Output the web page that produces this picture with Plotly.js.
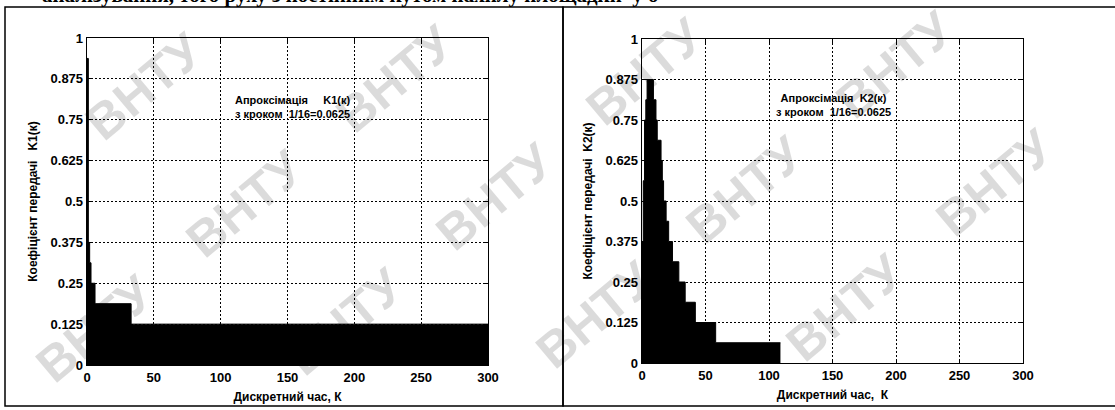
<!DOCTYPE html>
<html>
<head>
<meta charset="utf-8">
<script src="https://cdn.plot.ly/plotly-3.0.1.min.js"></script>
<style>html,body{margin:0;padding:0;background:#fff;}#chart{width:1115px;height:410px;}</style>
</head>
<body>
<div id="chart"></div>
<script>
// ---- data: step approximations (value holds from each start k to the next) ----
const k1Starts = [0, 1, 2, 3, 6, 33, 300];
const k1Levels = [0.9375, 0.375, 0.3125, 0.25, 0.1875, 0.125, 0.125];

const k2Starts = [0, 1, 2, 3, 4, 9, 11, 12, 15, 16, 17, 19, 21, 24, 29, 34, 42, 58, 109];
const k2Levels = [0.375, 0.5625, 0.75, 0.8125, 0.875, 0.8125, 0.75, 0.6875, 0.625, 0.5625, 0.5, 0.4375, 0.375, 0.3125, 0.25, 0.1875, 0.125, 0.0625, 0.0625];

const xTicks = [0, 50, 100, 150, 200, 250, 300];
const yTicks = [0, 0.125, 0.25, 0.375, 0.5, 0.625, 0.75, 0.875, 1];
const yTickText = ['0', '0.125', '0.25', '0.375', '0.5', '0.625', '0.75', '0.875', '1'];

const xTitle1 = 'Дискретний час, К';
const xTitle2 = 'Дискретний час,  К';
const yTitle1 = 'Коефіцієнт передачі   K1(к)';
const yTitle2 = 'Коефіцієнт передачі  K2(к)';
const note1 = 'Апроксімація     K1(к)<br>з кроком  1/16=0.0625';
const note2 = 'Апроксімація  K2(к)<br>з кроком  1/16=0.0625';
const headerText = 'аналізування, того руху з постійним кутом нахилу площадки  у о';
const watermark = 'ВНТУ';

// ---- layout helpers ----
const W = 1115, H = 410;
const px = v => v / W;
const py = v => 1 - v / H;
const FONT = 'Liberation Sans Narrow, Liberation Sans, Arial, sans-serif';

const traces = [
  {x: k1Starts, y: k1Levels, xaxis: 'x', yaxis: 'y', type: 'scatter', mode: 'lines',
   line: {shape: 'hv', color: '#000', width: 1}, fill: 'tozeroy', fillcolor: '#000',
   hoverinfo: 'skip', showlegend: false},
  {x: k2Starts, y: k2Levels, xaxis: 'x2', yaxis: 'y2', type: 'scatter', mode: 'lines',
   line: {shape: 'hv', color: '#000', width: 1}, fill: 'tozeroy', fillcolor: '#000',
   hoverinfo: 'skip', showlegend: false}
];

function xax(domain, title, anchor) {
  return {
    domain: domain, anchor: anchor, range: [0, 300], tickvals: xTicks, ticktext: xTicks.map(String),
    ticks: 'inside', ticklen: 4, tickcolor: '#000', mirror: 'allticks',
    showline: true, linecolor: '#000', linewidth: 1.3,
    showgrid: true, gridcolor: '#000', gridwidth: 1, griddash: '2px,2px',
    zeroline: false, fixedrange: true,
    tickfont: {family: FONT, size: 13, color: '#000', weight: 'bold'},
    title: {text: title, standoff: 8, font: {family: FONT, size: 12, color: '#000', weight: 'bold'}},
    automargin: false
  };
}
function yax(domain, title, anchor) {
  return {
    domain: domain, anchor: anchor, range: [0, 1], tickvals: yTicks, ticktext: yTickText,
    ticks: 'inside', ticklen: 4, tickcolor: '#000', mirror: 'allticks',
    showline: true, linecolor: '#000', linewidth: 1.3,
    showgrid: true, gridcolor: '#000', gridwidth: 1, griddash: '2px,2px',
    zeroline: false, fixedrange: true,
    tickfont: {family: FONT, size: 13, color: '#000', weight: 'bold'},
    title: {text: title, standoff: 10, font: {family: FONT, size: 12, color: '#000', weight: 'bold'}},
    automargin: false
  };
}

// watermark lattice (kept inside the page)
const annotations = [];
const ax = [150, -125], bx = [100, 118];
const origin = [745, 190];
for (let i = -6; i <= 6; i++) {
  for (let j = -5; j <= 5; j++) {
    const cx = origin[0] + i * ax[0] + j * bx[0];
    const cy = origin[1] + i * ax[1] + j * bx[1];
    if (cx < 40 || cx > W - 40 || cy < 35 || cy > H - 35) continue;
    annotations.push({
      xref: 'paper', yref: 'paper', x: px(cx), y: py(cy), xanchor: 'center', yanchor: 'middle',
      text: watermark, showarrow: false, textangle: -40,
      font: {family: 'Liberation Sans, Arial, sans-serif', size: 50, color: 'rgba(0,0,0,0.14)', weight: 'bold'}
    });
  }
}
annotations.push(
  {xref: 'paper', yref: 'paper', x: px(292), y: py(107), xanchor: 'center', yanchor: 'middle',
   text: note1, showarrow: false, align: 'center',
   font: {family: FONT, size: 11, color: '#000', weight: 'bold'}},
  {xref: 'paper', yref: 'paper', x: px(833), y: py(105), xanchor: 'center', yanchor: 'middle',
   text: note2, showarrow: false, align: 'center',
   font: {family: FONT, size: 11, color: '#000', weight: 'bold'}},
  {xref: 'paper', yref: 'paper', x: px(40), y: py(-5), xanchor: 'left', yanchor: 'middle',
   text: headerText, showarrow: false,
   font: {family: 'Liberation Serif, serif', size: 21, color: '#000', weight: 'bold'}}
);

const layout = {
  width: W, height: H,
  margin: {l: 0, r: 0, t: 0, b: 0},
  paper_bgcolor: '#fff', plot_bgcolor: 'rgba(0,0,0,0)',
  showlegend: false,
  xaxis: xax([px(87), px(488)], xTitle1, 'y'),
  yaxis: yax([py(365), py(38)], yTitle1, 'x'),
  xaxis2: xax([px(642), px(1023)], xTitle2, 'y2'),
  yaxis2: yax([py(363), py(39)], yTitle2, 'x2'),
  annotations: annotations,
  shapes: [
    {type: 'rect', xref: 'paper', yref: 'paper', x0: px(5), x1: px(563), y0: py(406), y1: py(7),
     line: {color: '#000', width: 1.5}, layer: 'above'},
    {type: 'rect', xref: 'paper', yref: 'paper', x0: px(563), x1: px(1120), y0: py(406), y1: py(7),
     line: {color: '#000', width: 1.5}, layer: 'above'}
  ]
};

Plotly.newPlot('chart', traces, layout, {staticPlot: true, displayModeBar: false});
</script>
</body>
</html>
